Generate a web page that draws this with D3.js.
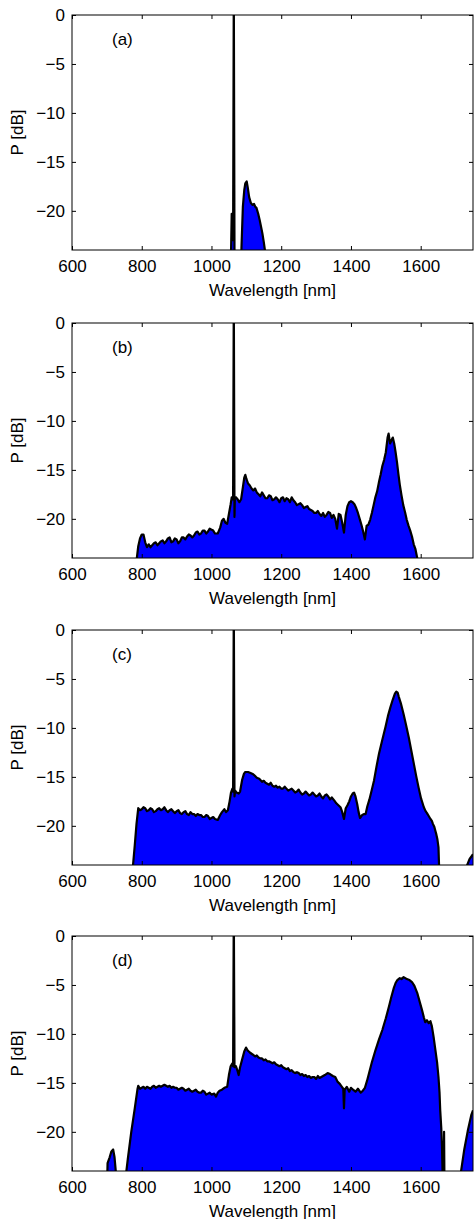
<!DOCTYPE html>
<html>
<head>
<meta charset="utf-8">
<script src="https://cdn.jsdelivr.net/npm/d3@7"></script>
<style>
  body { margin: 0; background: #fff; }
  text { font-family: "Liberation Sans", Arial, sans-serif; fill: #000; }
</style>
</head>
<body>
<div id="chart"></div>
<script>
// spectra: wavelength [nm] and power [dB]
var panelLabels = ["(a)", "(b)", "(c)", "(d)"];
var xTicks = [600, 800, 1000, 1200, 1400, 1600];
var yTicks = [0, -5, -10, -15, -20];

var wlA = [600, 1054, 1056, 1058, 1060, 1062, 1064, 1066, 1068, 1082, 1086, 1090, 1094, 1097, 1101, 1104, 1108, 1113, 1118, 1122, 1126, 1129, 1134, 1138, 1142, 1146, 1150, 1154, 1157, 1750];
var pA = [-30, -30, -24.5, -20.3, -22.6, -23, 3, -24.5, -30, -30, -23.8, -19.6, -17.9, -17.2, -17.0, -17.6, -18.6, -19.2, -19.4, -19.3, -19.6, -19.7, -20.3, -20.9, -21.6, -22.3, -23.2, -24.2, -30, -30];

var wlB = [600, 780, 785, 790, 795, 800, 805, 810, 815, 820, 825, 830, 835, 840, 845, 850, 855, 860, 865, 870, 875, 880, 885, 890, 895, 900, 905, 910, 915, 920, 925, 930, 935, 940, 945, 950, 955, 960, 965, 970, 975, 980, 985, 990, 995, 1000, 1005, 1010, 1018, 1025, 1030, 1035, 1040, 1045, 1050, 1055, 1058, 1062, 1064, 1066, 1067, 1070, 1075, 1080, 1085, 1090, 1094, 1097, 1100, 1105, 1110, 1115, 1120, 1125, 1130, 1135, 1140, 1145, 1150, 1155, 1160, 1165, 1170, 1175, 1180, 1185, 1190, 1195, 1200, 1205, 1210, 1215, 1220, 1225, 1230, 1235, 1240, 1245, 1250, 1255, 1260, 1265, 1270, 1275, 1280, 1285, 1290, 1295, 1300, 1305, 1310, 1315, 1320, 1325, 1330, 1335, 1340, 1345, 1350, 1355, 1360, 1365, 1370, 1375, 1380, 1385, 1390, 1395, 1400, 1405, 1410, 1415, 1420, 1425, 1430, 1435, 1440, 1445, 1450, 1455, 1460, 1465, 1470, 1475, 1480, 1485, 1490, 1495, 1500, 1505, 1508, 1512, 1516, 1520, 1524, 1528, 1532, 1536, 1540, 1545, 1550, 1555, 1560, 1565, 1570, 1575, 1580, 1585, 1590, 1595, 1750];
var pB = [-30, -30, -24.3, -22.8, -22.0, -21.6, -21.6, -22.4, -22.9, -22.6, -22.9, -22.7, -22.5, -22.4, -22.7, -22.5, -22.3, -22.2, -22.5, -22.3, -22.0, -21.9, -22.4, -22.3, -22.0, -22.1, -22.5, -22.3, -21.9, -21.9, -22.1, -21.8, -21.6, -21.7, -21.9, -21.7, -21.4, -21.3, -21.6, -21.5, -21.2, -21.2, -21.5, -21.3, -21.0, -21.1, -21.2, -21.5, -21.5, -20.9, -20.2, -20.0, -20.4, -20.5, -19.5, -18.5, -17.8, -18.0, 3, -19.8, -18.0, -17.8, -18.0, -18.3, -18.0, -16.8, -15.8, -15.5, -15.9, -16.4, -16.6, -16.9, -17.1, -16.9, -17.3, -17.5, -17.7, -17.3, -17.6, -17.9, -17.9, -17.6, -17.7, -18.1, -18.0, -17.8, -18.0, -18.3, -17.9, -17.8, -18.2, -17.9, -18.0, -18.3, -17.8, -18.1, -18.3, -18.6, -18.5, -18.4, -18.6, -18.9, -18.8, -18.7, -19.0, -19.1, -19.2, -19.4, -19.4, -19.2, -19.5, -19.7, -19.4, -19.8, -19.6, -19.3, -19.4, -19.9, -19.6, -20.0, -21.0, -19.5, -19.6, -20.4, -21.4, -19.6, -18.7, -18.3, -18.2, -18.3, -18.5, -18.9, -19.4, -20.0, -20.6, -21.3, -22.1, -20.7, -20.6, -20.1, -19.4, -18.6, -17.8, -17.2, -16.3, -15.5, -14.6, -14.0, -13.2, -11.7, -11.3, -12.3, -12.0, -11.7, -12.3, -13.2, -14.2, -15.4, -16.5, -17.6, -18.6, -19.3, -20.1, -20.7, -21.2, -21.8, -22.6, -23.1, -24.0, -30, -30];

var wlC = [600, 770, 775, 780, 785, 790, 795, 800, 805, 810, 815, 820, 825, 830, 835, 840, 845, 850, 855, 860, 865, 870, 875, 880, 885, 890, 895, 900, 905, 910, 915, 920, 925, 930, 935, 940, 945, 950, 955, 960, 965, 970, 975, 980, 985, 990, 995, 1000, 1005, 1010, 1018, 1025, 1030, 1037, 1042, 1047, 1052, 1056, 1060, 1062, 1064, 1066, 1068, 1072, 1078, 1082, 1088, 1093, 1097, 1105, 1112, 1118, 1125, 1130, 1137, 1145, 1150, 1155, 1160, 1165, 1170, 1175, 1180, 1185, 1190, 1195, 1200, 1205, 1210, 1215, 1220, 1225, 1230, 1235, 1240, 1245, 1250, 1255, 1260, 1265, 1270, 1275, 1280, 1285, 1290, 1295, 1300, 1305, 1310, 1315, 1320, 1325, 1330, 1335, 1340, 1345, 1352, 1358, 1364, 1370, 1375, 1380, 1385, 1390, 1395, 1400, 1405, 1409, 1413, 1418, 1422, 1426, 1432, 1438, 1442, 1447, 1453, 1460, 1466, 1473, 1480, 1490, 1499, 1506, 1513, 1520, 1526, 1530, 1534, 1537, 1544, 1551, 1558, 1566, 1573, 1580, 1587, 1594, 1601, 1609, 1614, 1618, 1623, 1628, 1632, 1635, 1639, 1642, 1645, 1648, 1651, 1653, 1655, 1725, 1730, 1740, 1750];
var pC = [-30, -30, -24.0, -22.0, -19.8, -18.2, -18.4, -18.3, -18.1, -18.2, -18.5, -18.4, -18.2, -18.3, -18.6, -18.5, -18.3, -18.2, -18.4, -18.3, -18.1, -18.4, -18.6, -18.4, -18.3, -18.5, -18.7, -18.5, -18.4, -18.7, -18.8, -18.6, -18.5, -18.8, -18.9, -18.6, -18.8, -18.8, -19.0, -18.8, -18.9, -18.9, -19.1, -19.1, -18.9, -19.0, -19.3, -19.2, -19.1, -19.3, -19.4, -18.9, -18.6, -18.3, -18.6, -18.4, -17.5, -16.6, -16.2, -16.5, 3, -17.0, -16.4, -16.6, -16.7, -16.5, -15.3, -14.7, -14.5, -14.5, -14.6, -14.7, -14.9, -15.1, -15.2, -15.5, -15.4, -15.6, -15.7, -15.8, -15.6, -15.9, -16.0, -15.9, -16.1, -16.0, -16.2, -16.2, -16.0, -16.2, -16.4, -16.3, -16.2, -16.4, -16.6, -16.5, -16.3, -16.6, -16.8, -16.7, -16.5, -16.7, -16.9, -16.8, -16.6, -16.8, -17.0, -16.9, -16.7, -17.0, -17.2, -16.9, -16.8, -17.0, -17.3, -17.1, -17.4, -17.7, -17.9, -18.1, -18.6, -19.3, -18.2, -17.9, -17.5, -17.0, -16.7, -16.6, -17.0, -17.8, -18.6, -19.2, -18.9, -18.8, -18.8, -18.0, -17.3, -16.3, -15.4, -14.0, -12.7, -11.2, -9.9, -8.8, -7.9, -7.1, -6.5, -6.3, -6.4, -6.8, -7.6, -8.6, -9.7, -11.0, -12.3, -13.6, -14.9, -16.1, -17.2, -18.1, -18.5, -18.7, -19.0, -19.3, -19.5, -19.8, -20.1, -20.5, -20.9, -21.4, -22.2, -24.5, -30, -30, -24.3, -23.4, -22.9];

var wlD = [600, 698, 702, 708, 713, 718, 722, 726, 728, 752, 755, 760, 770, 780, 788, 790, 795, 800, 805, 810, 815, 820, 825, 830, 835, 840, 845, 850, 855, 860, 865, 870, 875, 880, 885, 890, 895, 900, 905, 910, 915, 920, 925, 930, 935, 940, 945, 950, 955, 960, 965, 970, 975, 980, 985, 990, 995, 1000, 1008, 1013, 1018, 1023, 1030, 1037, 1045, 1050, 1055, 1060, 1062, 1064, 1066, 1070, 1075, 1078, 1082, 1088, 1094, 1099, 1104, 1110, 1118, 1125, 1130, 1135, 1140, 1145, 1150, 1155, 1160, 1165, 1170, 1175, 1180, 1185, 1190, 1195, 1200, 1205, 1210, 1215, 1220, 1225, 1230, 1235, 1240, 1245, 1250, 1255, 1260, 1265, 1270, 1275, 1280, 1285, 1290, 1295, 1300, 1305, 1310, 1315, 1320, 1325, 1333, 1340, 1348, 1355, 1362, 1368, 1374, 1378, 1380, 1382, 1388, 1395, 1400, 1406, 1413, 1420, 1428, 1434, 1440, 1446, 1452, 1460, 1470, 1480, 1490, 1500, 1509, 1516, 1523, 1528, 1533, 1540, 1545, 1551, 1556, 1560, 1568, 1575, 1582, 1590, 1597, 1604, 1609, 1613, 1618, 1623, 1628, 1632, 1637, 1642, 1647, 1651, 1654, 1656, 1659, 1661, 1663, 1665, 1666, 1667, 1668, 1670, 1712, 1715, 1725, 1735, 1745, 1750];
var pD = [-30, -30, -23.2, -22.6, -22.0, -21.8, -22.6, -24.2, -30, -30, -24.3, -22.8, -20.0, -17.6, -15.6, -15.3, -15.6, -15.5, -15.4, -15.6, -15.4, -15.5, -15.6, -15.4, -15.3, -15.5, -15.4, -15.3, -15.4, -15.3, -15.2, -15.3, -15.4, -15.3, -15.5, -15.4, -15.5, -15.5, -15.7, -15.6, -15.5, -15.6, -15.8, -15.7, -15.6, -15.8, -15.9, -15.8, -15.7, -15.9, -16.0, -16.0, -15.8, -15.9, -16.2, -16.1, -16.0, -16.2, -16.1, -16.4, -16.0, -15.8, -15.7, -15.5, -15.4, -14.2, -13.3, -13.0, -13.3, 3, -13.4, -13.3, -13.8, -14.2, -13.4, -12.6, -11.8, -11.4, -11.7, -11.9, -12.1, -12.3, -12.2, -12.4, -12.5, -12.5, -12.7, -12.6, -12.8, -12.8, -12.9, -13.0, -12.9, -13.1, -13.2, -13.3, -13.2, -13.4, -13.5, -13.6, -13.5, -13.8, -13.7, -13.9, -14.0, -13.9, -14.0, -14.2, -14.1, -14.3, -14.2, -14.4, -14.3, -14.5, -14.4, -14.4, -14.6, -14.3, -14.5, -14.4, -14.3, -14.2, -14.0, -14.1, -14.3, -14.4, -14.9, -15.1, -15.4, -15.6, -17.6, -15.7, -15.4, -15.9, -15.5, -15.7, -15.9, -15.6, -16.0, -15.8, -15.5, -14.8, -14.0, -12.9, -11.7, -10.6, -9.6, -8.4, -7.2, -6.2, -5.3, -4.8, -4.5, -4.3, -4.4, -4.2, -4.3, -4.4, -4.5, -4.7, -5.1, -5.8, -6.7, -7.6, -8.3, -8.8, -8.6, -8.9, -8.7, -9.2, -10.3, -11.6, -12.9, -14.4, -16.0, -17.8, -19.6, -21.5, -24.5, -30, -24.5, -20.0, -24.5, -30, -30, -24.2, -21.8, -19.9, -18.3, -17.8];

var spectra = [[wlA, pA], [wlB, pB], [wlC, pC], [wlD, pD]];

var svgWidth = 474;
var svgHeight = 1219;
var margin = { left: 72, right: 1 };
var panelTops = [15, 323, 630, 936];
var width = svgWidth - margin.left - margin.right;
var height = 235;

var svg = d3.select("#chart")
  .append("svg")
  .attr("width", svgWidth)
  .attr("height", svgHeight);

var xScale = d3.scaleLinear().domain([600, 1750]).range([0, width]);
var yScale = d3.scaleLinear().domain([-24, 0]).range([height, 0]);

spectra.forEach(function(s, i) {
  var data = s[0].map(function(w, j) { return { wl: w, p: s[1][j] }; });

  var g = svg.append("g")
    .attr("transform", `translate(${margin.left}, ${panelTops[i]})`);

  g.append("clipPath")
    .attr("id", "clip" + i)
    .append("rect")
    .attr("width", width)
    .attr("height", height);

  var plot = g.append("g").attr("clip-path", `url(#clip${i})`);

  var area = d3.area()
    .x(d => xScale(d.wl))
    .y0(yScale(-30))
    .y1(d => yScale(d.p));

  var line = d3.line()
    .x(d => xScale(d.wl))
    .y(d => yScale(d.p));

  plot.append("path")
    .datum(data)
    .attr("d", area)
    .attr("fill", "#0000ff");

  plot.append("path")
    .datum(data)
    .attr("d", line)
    .attr("fill", "none")
    .attr("stroke", "#000")
    .attr("stroke-width", 2.2)
    .attr("stroke-linejoin", "round");

  // axes, ticks pointing inward on all four sides
  var fmt = d3.format("d");
  g.append("g")
    .attr("transform", `translate(0, ${height})`)
    .call(d3.axisBottom(xScale).tickValues(xTicks).tickFormat(fmt).tickSizeInner(-4).tickSizeOuter(0).tickPadding(10))
    .call(ax => ax.select(".domain").remove());
  g.append("g")
    .call(d3.axisTop(xScale).tickValues(xTicks).tickFormat("").tickSizeInner(-4).tickSizeOuter(0))
    .call(ax => ax.select(".domain").remove());
  g.append("g")
    .call(d3.axisLeft(yScale).tickValues(yTicks).tickFormat(fmt).tickSizeInner(-4).tickSizeOuter(0).tickPadding(7))
    .call(ax => ax.select(".domain").remove());
  g.append("g")
    .attr("transform", `translate(${width}, 0)`)
    .call(d3.axisRight(yScale).tickValues(yTicks).tickFormat("").tickSizeInner(-4).tickSizeOuter(0))
    .call(ax => ax.select(".domain").remove());

  g.selectAll(".tick text")
    .attr("font-size", "17px")
    .attr("font-family", "Liberation Sans, Arial, sans-serif");
  g.selectAll(".tick line").attr("stroke", "#000");

  g.append("rect")
    .attr("width", width)
    .attr("height", height)
    .attr("fill", "none")
    .attr("stroke", "#000")
    .attr("stroke-width", 1);

  g.append("text")
    .attr("x", 40)
    .attr("y", 30)
    .attr("font-size", "17px")
    .text(panelLabels[i]);

  g.append("text")
    .attr("x", width / 2)
    .attr("y", height + 46)
    .attr("text-anchor", "middle")
    .attr("font-size", "17px")
    .text("Wavelength [nm]");

  g.append("text")
    .attr("transform", "rotate(-90)")
    .attr("x", -height / 2)
    .attr("y", -49)
    .attr("text-anchor", "middle")
    .attr("font-size", "17px")
    .text("P [dB]");
});
</script>
</body>
</html>
